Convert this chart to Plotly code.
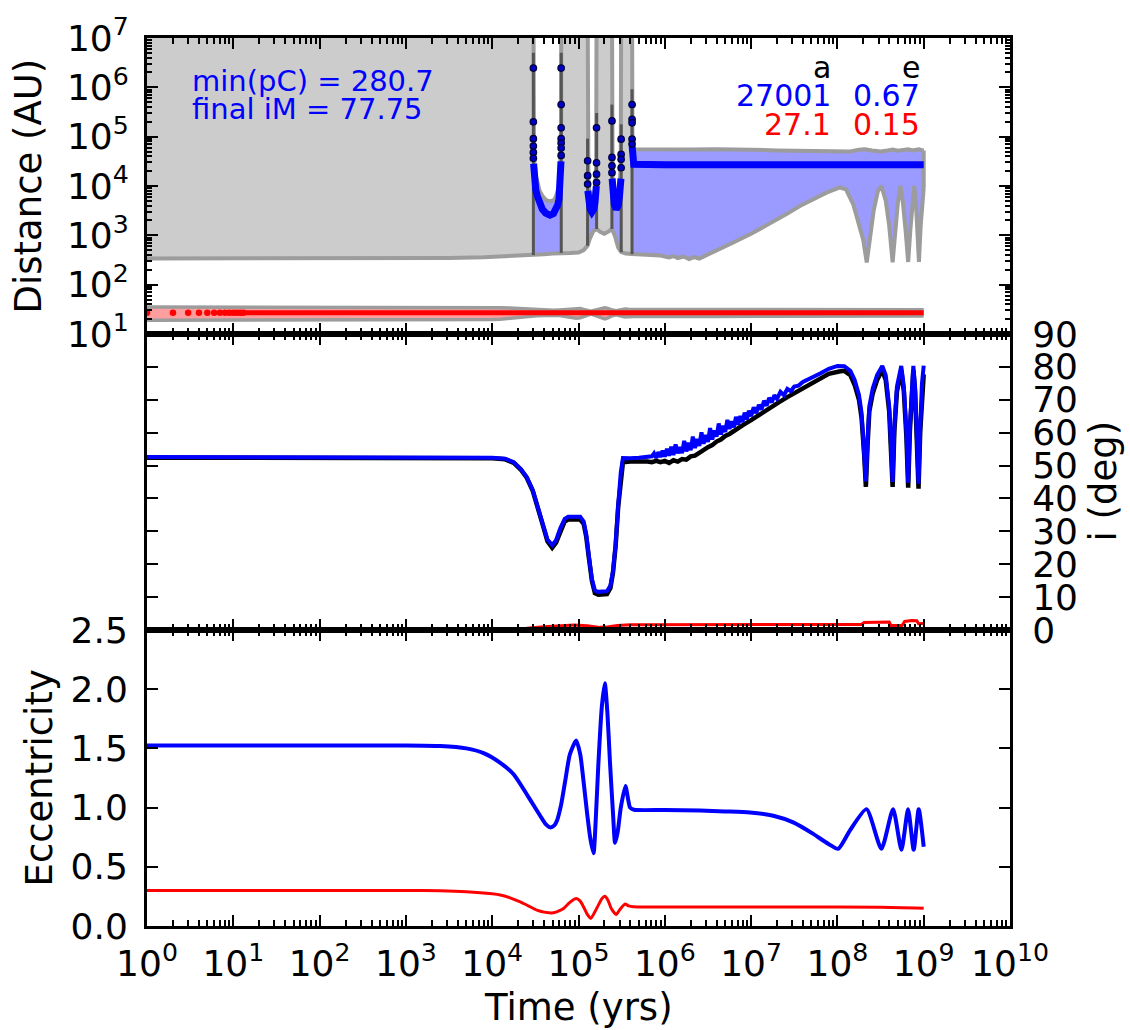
import numpy as np
import plotly.graph_objects as go

FONT = "DejaVu Sans"
W, H = 1130, 1030
ML, MR, MT, MB = 147, 120, 35, 104

# ---------------------------------------------------------------------------
# Outer companion, top panel.  Times are log10(yr), distances log10(AU).
# ---------------------------------------------------------------------------
peri_out_logt = [0.0, 1.0, 2.0, 3.0, 3.5, 3.9, 4.2, 4.477, 4.60, 4.70, 4.800, 4.90, 5.00, 5.06,
                 5.105, 5.13, 5.17, 5.210, 5.25, 5.30, 5.35, 5.387, 5.42, 5.46, 5.495, 5.55,
                 5.620, 5.80, 5.95, 6.05, 6.10, 6.15, 6.22, 6.28, 6.34, 6.40, 6.48, 6.60, 6.80,
                 7.00, 7.18, 7.40, 7.57, 7.75, 7.88, 8.03, 8.10, 8.185, 8.25, 8.30, 8.34, 8.37,
                 8.42, 8.47, 8.51, 8.56, 8.60, 8.64, 8.665, 8.70, 8.73, 8.76, 8.79, 8.82, 8.845,
                 8.87, 8.89, 8.91, 8.93, 8.945, 8.965, 8.985, 9.0]
peri_out_dex = [2.530, 2.530, 2.530, 2.533, 2.540, 2.555, 2.575, 2.600, 2.615, 2.630, 2.645, 2.640,
                2.650, 2.700, 2.790, 2.930, 3.080, 3.130, 3.070, 3.030, 3.080, 3.130, 3.000, 2.750,
                2.660, 2.630, 2.620, 2.610, 2.590, 2.550, 2.580, 2.540, 2.570, 2.520, 2.560, 2.530,
                2.600, 2.700, 2.860, 3.030, 3.200, 3.420, 3.600, 3.770, 3.870, 3.970, 3.930, 3.620,
                3.250, 2.900, 2.44824, 2.900, 3.500, 3.900, 4.000, 3.700, 3.200, 2.455, 3.000,
                3.650, 4.000, 3.650, 3.100, 2.460, 3.100, 3.700, 4.000, 3.650, 3.100, 2.460,
                3.200, 3.800, 3.960]

# apocentre of each bound stretch (None separates stretches; 8.0 = off the top)
apo_out_logt = [4.477, 4.478, 4.485, 4.50, 4.523, 4.55, 4.581, 4.62, 4.67, 4.71, 4.735, 4.76,
                4.774, 4.785, 4.795, 4.799, 4.800, None,
                5.105, 5.107, 5.115, 5.13, 5.155, 5.18, 5.195, 5.205, 5.210, None,
                5.387, 5.389, 5.395, 5.41, 5.437, 5.46, 5.48, 5.49, 5.495, None,
                5.620, 5.621, 5.625, 5.64, 5.80, 6.00, 6.30, 6.60, 6.80, 7.00, 7.30, 7.60, 7.90,
                8.03, 8.15, 8.25, 8.32, 8.40, 8.50, 8.58, 8.64, 8.70, 8.76, 8.82, 8.87, 8.91,
                8.945, 8.97, 9.0]
apo_out_dex = [8.0, 5.0, 4.55, 4.25, 4.05, 3.90, 3.80, 3.72, 3.69, 3.71, 3.77, 3.88, 3.99, 4.20,
               4.60, 5.20, 8.0, None,
               8.0, 4.60, 4.05, 3.85, 3.75, 3.82, 4.00, 4.50, 8.0, None,
               8.0, 4.60, 4.20, 3.92, 3.78, 3.86, 4.10, 4.50, 8.0, None,
               8.0, 5.20, 4.80, 4.745, 4.74, 4.745, 4.74, 4.745, 4.745, 4.735, 4.72, 4.71, 4.70,
               4.685, 4.70, 4.735, 4.745, 4.72, 4.70, 4.72, 4.74, 4.715, 4.73, 4.745, 4.72,
               4.735, 4.745, 4.73, 4.72]

bound_start = [4.477, 5.105, 5.387, 5.620]
bound_end = [4.800, 5.210, 5.495, 9.000]

# semi-major axis, densely sampled stretches
a_out_logt = [4.480, 4.490, 4.505, 4.523, 4.55, 4.581, 4.62, 4.67, 4.71, 4.735, 4.76, 4.774,
              4.785, 4.793, 4.797, None,
              5.108, 5.12, 5.135, 5.155, 5.175, 5.19, 5.20, 5.207, None,
              5.39, 5.40, 5.415, 5.437, 5.46, 5.475, 5.487, 5.492, None,
              5.622, 5.625, 5.64, 6.0, 6.5, 7.0, 7.5, 8.0, 8.5, 9.0]
a_out_dex = [4.45, 4.10, 3.92, 3.80, 3.62, 3.53, 3.45, 3.41, 3.44, 3.50, 3.62, 3.73, 3.95, 4.27,
             4.50, None,
             3.90, 3.65, 3.53, 3.47, 3.52, 3.65, 3.85, 4.00, None,
             4.15, 3.85, 3.62, 3.53, 3.60, 3.80, 4.05, 4.15, None,
             4.80, 4.50, 4.44, 4.433, 4.432, 4.432, 4.432, 4.4315, 4.4314, 4.43138]

# isolated samples of the semi-major axis close to e = 1
a_dot_logt = [4.477, 4.477, 4.477, 4.477, 4.477, 4.477,
              4.799, 4.799, 4.799, 4.799, 4.799, 4.799, 4.799,
              5.106, 5.106, 5.106,
              5.209, 5.209, 5.209, 5.209,
              5.388, 5.388, 5.388, 5.388,
              5.494, 5.494, 5.494, 5.494,
              5.621, 5.621, 5.621, 5.621, 5.621]
a_dot_dex = [6.39, 5.30, 4.96, 4.81, 4.68, 4.56,
             6.39, 5.65, 5.18, 4.96, 4.87, 4.77, 4.62,
             4.51, 4.21, 4.04,
             5.18, 4.47, 4.24, 4.07,
             5.32, 4.58, 4.41, 4.27,
             4.95, 4.64, 4.54, 4.37,
             5.65, 5.35, 5.28, 4.95, 4.85]

# transitions between bound and unbound orbits
edge_logt = [4.477, 4.800, 5.105, 5.210, 5.387, 5.495, 5.620]
edge_top_dex = [6.70, 6.70, 4.96, 5.48, 5.65, 5.25, 5.96]

# ---------------------------------------------------------------------------
# Inner companion
# ---------------------------------------------------------------------------
a_in_au = 27.1
a_in_line_logt = [1.08, 9.0]
a_in_dot_yr = [1, 2, 3, 4, 5, 6, 7, 8, 9, 10, 11, 12, 13]

# ---------------------------------------------------------------------------
# Eccentricities (bottom panel)
# ---------------------------------------------------------------------------
ecc_in_logt = [0.0, 2.0, 3.0, 3.4, 3.7, 4.0, 4.094, 4.2, 4.325, 4.42, 4.518, 4.62, 4.711, 4.78,
               4.826, 4.90, 4.973, 5.02, 5.058, 5.10, 5.143, 5.19, 5.23, 5.27, 5.305, 5.34, 5.378,
               5.436, 5.48, 5.54, 5.58, 5.636, 6.5, 7.5, 8.5, 9.0]
ecc_in = [0.300, 0.300, 0.300, 0.298, 0.290, 0.272, 0.262, 0.240, 0.204, 0.170, 0.134, 0.115,
          0.112, 0.130, 0.148, 0.200, 0.232, 0.210, 0.162, 0.100, 0.064, 0.120, 0.176, 0.230,
          0.251, 0.220, 0.150, 0.098, 0.140, 0.185, 0.170, 0.162, 0.161, 0.160, 0.158, 0.150]

ecc_out_logt = [0.0, 2.0, 3.0, 3.4, 3.7, 3.9, 4.094, 4.25, 4.40, 4.48, 4.556, 4.62, 4.672, 4.72,
                4.75, 4.80, 4.846, 4.90, 4.973, 5.02, 5.058, 5.10, 5.135, 5.174, 5.20, 5.23, 5.27,
                5.305, 5.335, 5.366, 5.40, 5.424, 5.455, 5.49, 5.544, 5.575, 5.598, 5.644, 6.0,
                6.408, 6.7, 6.987, 7.257, 7.488, 7.72, 7.893, 8.009, 8.144, 8.337, 8.51, 8.645,
                8.742, 8.819, 8.884, 8.942, 9.0]
ecc_out = [1.525, 1.525, 1.525, 1.52, 1.50, 1.46, 1.378, 1.28, 1.113, 1.02, 0.931, 0.86, 0.833,
           0.85, 0.889, 1.03, 1.225, 1.45, 1.566, 1.45, 1.225, 0.95, 0.749, 0.615, 0.90, 1.365,
           1.85, 2.05, 1.80, 1.365, 0.95, 0.702, 0.80, 1.00, 1.183, 1.07, 1.00, 0.982, 0.98,
           0.975, 0.968, 0.959, 0.931, 0.875, 0.778, 0.694, 0.652, 0.806, 0.987, 0.652, 0.987,
           0.644, 0.987, 0.644, 0.987, 0.67]

# ---------------------------------------------------------------------------
# Inclinations (middle panel, degrees)
# ---------------------------------------------------------------------------
inc_out_logt = [0.0, 2.0, 3.5, 4.0, 4.15, 4.25, 4.33, 4.40, 4.47, 4.53, 4.59, 4.64, 4.695, 4.74,
                4.79, 4.84, 4.88, 5.02, 5.06, 5.09, 5.12, 5.155, 5.19, 5.23, 5.33, 5.37, 5.40,
                5.43, 5.46, 5.49, 5.515, 5.60, 5.70, 5.80,
                5.850, 5.875, 5.900, 5.925, 5.950, 5.975, 6.000, 6.025, 6.050, 6.075, 6.100,
                6.125, 6.150, 6.175, 6.200, 6.225, 6.250, 6.275, 6.300, 6.325, 6.350, 6.375,
                6.400, 6.425, 6.450, 6.475, 6.500, 6.525, 6.550, 6.575, 6.600, 6.625, 6.650,
                6.675, 6.700, 6.725, 6.750, 6.775, 6.800, 6.825, 6.850, 6.875, 6.900, 6.925,
                6.950, 6.975, 7.000, 7.030, 7.060, 7.090, 7.120, 7.150, 7.180, 7.210, 7.240,
                7.270, 7.300, 7.340, 7.380, 7.420, 7.460, 7.500, 7.550, 7.600, 7.700, 7.800,
                7.900, 8.00, 8.08, 8.15, 8.20, 8.25, 8.28,
                8.31, 8.33, 8.35, 8.37, 8.41, 8.46, 8.52, 8.56, 8.60, 8.62, 8.64, 8.66, 8.69,
                8.74, 8.77, 8.80, 8.82, 8.84, 8.86, 8.88, 8.90, 8.92, 8.94, 8.96, 8.98, 9.0]
inc_out = [52.6, 52.6, 52.6, 52.4, 52.1, 51.0, 49.0, 46.5, 42.5, 37.5, 31.9, 27.5, 25.8, 27.3,
           31.0, 33.8, 34.4, 34.4, 33.0, 29.0, 22.5, 15.5, 12.0, 11.6, 11.8, 13.5, 18.0, 26.0,
           38.0, 48.0, 52.3, 52.2, 52.4, 52.5,
           52.8, 53.7, 52.3, 54.1, 52.6, 54.5, 52.7, 55.1, 53.0, 55.7, 53.2,
           56.4, 53.7, 55.6, 53.8, 57.5, 54.3, 56.9, 54.7, 58.8, 55.3, 58.1,
           56.0, 60.1, 56.6, 59.3, 57.2, 61.4, 57.9, 60.7, 58.8, 62.8, 59.4,
           62.1, 60.2, 63.9, 61.1, 63.5, 61.6, 64.8, 62.4, 65.1, 63.2, 66.1,
           64.0, 66.7, 65.0, 67.7, 65.9, 68.5, 67.0, 69.7, 68.2, 70.6, 69.2,
           71.4, 70.3, 72.4, 71.4, 73.3, 72.6, 74.0, 74.3, 75.4, 76.6, 78.0,
           79.4, 80.3, 80.2, 78.8, 76.0, 71.5, 66.0,
           55.0, 45.2, 58.0, 68.0, 73.5, 77.5, 80.3, 77.5, 68.0, 58.0, 45.0, 62.0, 74.0,
           80.3, 74.0, 60.0, 44.8, 62.0, 74.0, 80.3, 74.0, 62.0, 44.5, 62.0, 75.0, 80.4]

# mutual inclination
inc_mut_logt = [0.0, 2.0, 3.5, 4.0, 4.15, 4.25, 4.33, 4.40, 4.47, 4.53, 4.59, 4.64, 4.695, 4.74,
                4.79, 4.84, 4.88, 5.02, 5.06, 5.09, 5.12, 5.155, 5.19, 5.23, 5.33, 5.37, 5.40,
                5.43, 5.46, 5.49, 5.515, 5.60, 5.70, 5.80, 5.85, 5.90, 5.95, 6.00, 6.05, 6.10,
                6.15, 6.20, 6.25, 6.30, 6.35, 6.40, 6.45, 6.50, 6.55, 6.60, 6.65, 6.70, 6.75,
                6.80, 6.85, 6.90, 7.00, 7.10, 7.20, 7.32, 7.42, 7.53, 7.63, 7.73, 7.82, 7.90,
                8.02, 8.08, 8.15, 8.20, 8.25, 8.28, 8.31, 8.33, 8.35, 8.37,
                8.41, 8.46, 8.52, 8.56, 8.60, 8.62, 8.64, 8.66, 8.69, 8.74, 8.77, 8.80, 8.82,
                8.84, 8.86, 8.88, 8.90, 8.92, 8.94, 8.96, 8.98, 9.0]
inc_mut = [52.4, 52.4, 52.4, 52.2, 51.9, 50.8, 48.8, 46.3, 42.3, 37.3, 31.6, 27.0, 25.0, 26.6,
           30.2, 33.0, 33.6, 33.6, 32.3, 28.3, 22.0, 15.0, 11.2, 10.7, 10.9, 12.8, 17.5, 25.5,
           37.5, 47.0, 51.0, 51.2, 51.3, 51.2, 51.0, 51.4, 51.0, 51.4, 50.8, 51.6,
           51.2, 52.0, 51.8, 52.8, 53.0, 54.0, 54.6, 55.6, 56.2, 57.3, 57.9, 59.0, 59.6,
           60.6, 61.2, 62.2, 63.8, 65.6, 67.2, 69.2, 70.8, 72.4, 74.0, 75.6, 76.9, 77.9,
           78.6, 78.8, 77.5, 74.5, 70.0, 64.5, 53.5, 43.5, 56.5, 66.5,
           72.0, 76.0, 79.0, 76.0, 66.5, 56.5, 43.5, 60.5, 72.5, 79.0, 72.5, 58.5, 43.3,
           60.5, 72.5, 79.0, 72.5, 60.5, 43.0, 60.5, 72.0, 77.75]

inc_in_logt = [0.0, 4.2, 4.4, 4.6, 4.8, 4.95, 5.1, 5.25, 5.35, 5.45, 5.6, 6.5, 7.5, 8.28, 8.31,
               8.45, 8.60, 8.62, 8.75, 8.78, 8.86, 8.92, 8.94, 9.0]
inc_in = [0.3, 0.3, 0.5, 1.0, 1.4, 1.5, 1.3, 0.8, 1.0, 1.4, 1.6, 1.6, 1.7, 1.7, 2.3, 2.4, 2.4,
          1.4, 1.4, 2.6, 2.9, 2.8, 1.9, 2.0]

# ---------------------------------------------------------------------------
GRAY_FILL = "#cccccc"
GRAY_LINE = "#9c9c9c"
BLUE_FILL = "#9a9aff"
OFF_TOP = 8.0


def lin(v):
    return [None if x is None else 10.0 ** x for x in v]


def split(xs, ys):
    segs, cx, cy = [], [], []
    for x, y in zip(xs, ys):
        if x is None:
            segs.append((cx, cy))
            cx, cy = [], []
        else:
            cx.append(x)
            cy.append(y)
    if cx:
        segs.append((cx, cy))
    return segs


def within(xs, ys, x0, x1):
    px = [x for x in xs if x0 <= x <= x1]
    py = [y for x, y in zip(xs, ys) if x0 <= x <= x1]
    return px, py


fig = go.Figure()
TOP = dict(xaxis="x", yaxis="y")
MID = dict(xaxis="x2", yaxis="y2")
BOT = dict(xaxis="x3", yaxis="y3")
NOHOVER = dict(hoverinfo="skip", showlegend=False)

# unbound stretches: shaded from pericentre to infinity
hyp_start = [0.0] + bound_end[:-1]
for x0, x1 in zip(hyp_start, bound_start):
    px, py = within(peri_out_logt, peri_out_dex, x0, x1)
    fig.add_trace(go.Scatter(x=lin(px + [x1, x0]), y=lin(py + [OFF_TOP, OFF_TOP]),
                             fill="toself", fillcolor=GRAY_FILL, mode="lines",
                             line=dict(width=0), **TOP, **NOHOVER))

# bound stretches: shaded between pericentre and apocentre
for (ax_, ay_), x0, x1 in zip(split(apo_out_logt, apo_out_dex), bound_start, bound_end):
    px, py = within(peri_out_logt, peri_out_dex, x0, x1)
    fig.add_trace(go.Scatter(x=lin(ax_ + px[::-1]), y=lin(ay_ + py[::-1]),
                             fill="toself", fillcolor=BLUE_FILL, mode="lines",
                             line=dict(width=0), **TOP, **NOHOVER))

# inner orbit band
e_in = np.array(ecc_in)
apo_in = a_in_au * (1 + e_in)
peri_in = a_in_au * (1 - e_in)
t_in = np.array(lin(ecc_in_logt))
fig.add_trace(go.Scatter(x=np.concatenate([t_in, t_in[::-1]]),
                         y=np.concatenate([apo_in, peri_in[::-1]]),
                         fill="toself", fillcolor="rgba(255,0,0,0.38)", mode="lines",
                         line=dict(width=0), **TOP, **NOHOVER))

# pericentre / apocentre curves
fig.add_trace(go.Scatter(x=lin(peri_out_logt), y=lin(peri_out_dex), mode="lines",
                         line=dict(color=GRAY_LINE, width=4), **TOP, **NOHOVER))
fig.add_trace(go.Scatter(x=lin(apo_out_logt), y=lin(apo_out_dex), mode="lines",
                         line=dict(color=GRAY_LINE, width=4), **TOP, **NOHOVER))
fig.add_trace(go.Scatter(x=lin([apo_out_logt[-1], peri_out_logt[-1]]),
                         y=lin([apo_out_dex[-1], peri_out_dex[-1]]), mode="lines",
                         line=dict(color=GRAY_LINE, width=4), **TOP, **NOHOVER))
fig.add_trace(go.Scatter(x=t_in, y=apo_in, mode="lines",
                         line=dict(color=GRAY_LINE, width=3.5), **TOP, **NOHOVER))
fig.add_trace(go.Scatter(x=t_in, y=peri_in, mode="lines",
                         line=dict(color=GRAY_LINE, width=3.5), **TOP, **NOHOVER))

# dark verticals where the orbit switches between bound and unbound
ex, ey = [], []
for t, top in zip(edge_logt, edge_top_dex):
    bottom = float(np.interp(t, peri_out_logt, peri_out_dex))
    ex += [t, t, None]
    ey += [bottom, top, None]
fig.add_trace(go.Scatter(x=lin(ex), y=lin(ey), mode="lines",
                         line=dict(color="#555555", width=3), **TOP, **NOHOVER))

# semi-major axes
fig.add_trace(go.Scatter(x=lin(a_out_logt), y=lin(a_out_dex), mode="lines",
                         line=dict(color="blue", width=7), **TOP, **NOHOVER))
fig.add_trace(go.Scatter(x=lin(a_dot_logt), y=lin(a_dot_dex), mode="markers",
                         marker=dict(color="#0000c8", size=6.5, line=dict(color="#00003a", width=1.2)),
                         **TOP, **NOHOVER))
fig.add_trace(go.Scatter(x=lin(a_in_line_logt), y=[a_in_au, a_in_au], mode="lines",
                         line=dict(color="red", width=5), **TOP, **NOHOVER))
fig.add_trace(go.Scatter(x=a_in_dot_yr, y=[a_in_au] * len(a_in_dot_yr), mode="markers",
                         marker=dict(color="red", size=6.5), cliponaxis=True, **TOP, **NOHOVER))

# inclinations
fig.add_trace(go.Scatter(x=lin(inc_mut_logt), y=inc_mut, mode="lines",
                         line=dict(color="black", width=4.5), **MID, **NOHOVER))
fig.add_trace(go.Scatter(x=lin(inc_out_logt), y=inc_out, mode="lines",
                         line=dict(color="blue", width=4), **MID, **NOHOVER))
fig.add_trace(go.Scatter(x=lin(inc_in_logt), y=inc_in, mode="lines",
                         line=dict(color="red", width=3), **MID, **NOHOVER))

# eccentricities
fig.add_trace(go.Scatter(x=lin(ecc_out_logt), y=ecc_out, mode="lines",
                         line=dict(color="blue", width=4, shape="spline", smoothing=0.6),
                         **BOT, **NOHOVER))
fig.add_trace(go.Scatter(x=lin(ecc_in_logt), y=ecc_in, mode="lines",
                         line=dict(color="red", width=3, shape="spline", smoothing=0.6),
                         **BOT, **NOHOVER))

# ---------------------------------------------------------------------------
# axes
# ---------------------------------------------------------------------------
TICKFONT = dict(family=FONT, size=36, color="black")
x_major = [10.0 ** k for k in range(0, 11)]
x_text = [f"10<sup>{k}</sup>" for k in range(0, 11)]
x_minor = [m * 10.0 ** k for k in range(0, 10) for m in range(2, 10)]
y_major = [10.0 ** k for k in range(1, 8)]
y_text = [f"10<sup>{k}</sup>" for k in range(1, 8)]
y_minor = [m * 10.0 ** k for k in range(1, 7) for m in range(2, 10)]

common = dict(showline=True, linewidth=3, linecolor="black", mirror="allticks",
              ticks="inside", ticklen=11, tickwidth=1.5, tickcolor="black",
              showgrid=False, zeroline=False, tickfont=TICKFONT)


def xaxis(anchor, labels):
    return dict(type="log", range=[0, 10], domain=[0, 1], anchor=anchor,
                tickmode="array", tickvals=x_major, ticktext=x_text,
                showticklabels=labels, ticklabelstandoff=4,
                minor=dict(ticks="inside", ticklen=6, tickwidth=1.5, tickcolor="black",
                           tickmode="array", tickvals=x_minor, showgrid=False),
                **common)


third = 1.0 / 3.0
fig.update_layout(
    width=W, height=H,
    margin=dict(l=ML, r=MR, t=MT, b=MB, pad=0),
    paper_bgcolor="white", plot_bgcolor="white",
    showlegend=False, hovermode=False,
    font=dict(family=FONT, color="black"),
    xaxis=xaxis("y", False),
    xaxis2=xaxis("y2", False),
    xaxis3=xaxis("y3", True),
    yaxis=dict(type="log", range=[1, 7], domain=[2 * third, 1], anchor="x",
               tickmode="array", tickvals=y_major, ticktext=y_text, ticklabelstandoff=8,
               minor=dict(ticks="inside", ticklen=5, tickwidth=1.5, tickcolor="black",
                          tickmode="array", tickvals=y_minor, showgrid=False),
               **common),
    yaxis2=dict(range=[0, 90], domain=[third, 2 * third], anchor="x2", side="right",
                tickmode="linear", tick0=0, dtick=10, ticklabelstandoff=12, **common),
    yaxis3=dict(range=[0, 2.5], domain=[0, third], anchor="x3",
                tickmode="linear", tick0=0, dtick=0.5, tickformat=".1f",
                ticklabelstandoff=9, **common),
)


def px_x(p):
    return (p - ML) / (W - ML - MR)


def px_y(p):
    return (H - MB - p) / (H - MT - MB)


def label(text, x, y, size, color="black", xanchor="center", angle=0):
    fig.add_annotation(text=text, x=px_x(x), y=px_y(y), xref="paper", yref="paper",
                       showarrow=False, xanchor=xanchor, yanchor="middle", textangle=angle,
                       font=dict(family=FONT, size=size, color=color))


# axis titles
label("Distance (AU)", 29, 183, 37, angle=-90)
label("Eccentricity", 39, 778, 37, angle=-90)
label("i (deg)", 1104, 480, 37, angle=-90)
label("Time (yrs)", 578, 1008, 37)

# summary text in the top panel
min_peri = 10.0 ** min(peri_out_dex)
label(f"min(pC) = {min_peri:.1f}", 190, 78, 29, color="blue", xanchor="left")
label(f"final iM = {inc_mut[-1]:.2f}", 190, 106, 29, color="blue", xanchor="left")
label("a", 833, 65, 30, xanchor="right")
label("e", 922, 65, 30, xanchor="right")
label(f"{10.0 ** a_out_dex[-1]:.0f}", 833, 93, 30, color="blue", xanchor="right")
label(f"{ecc_out[-1]:.2f}", 922, 93, 30, color="blue", xanchor="right")
label(f"{a_in_au:.1f}", 833, 122, 30, color="red", xanchor="right")
label(f"{ecc_in[-1]:.2f}", 922, 122, 30, color="red", xanchor="right")

fig.write_html("out.html")
